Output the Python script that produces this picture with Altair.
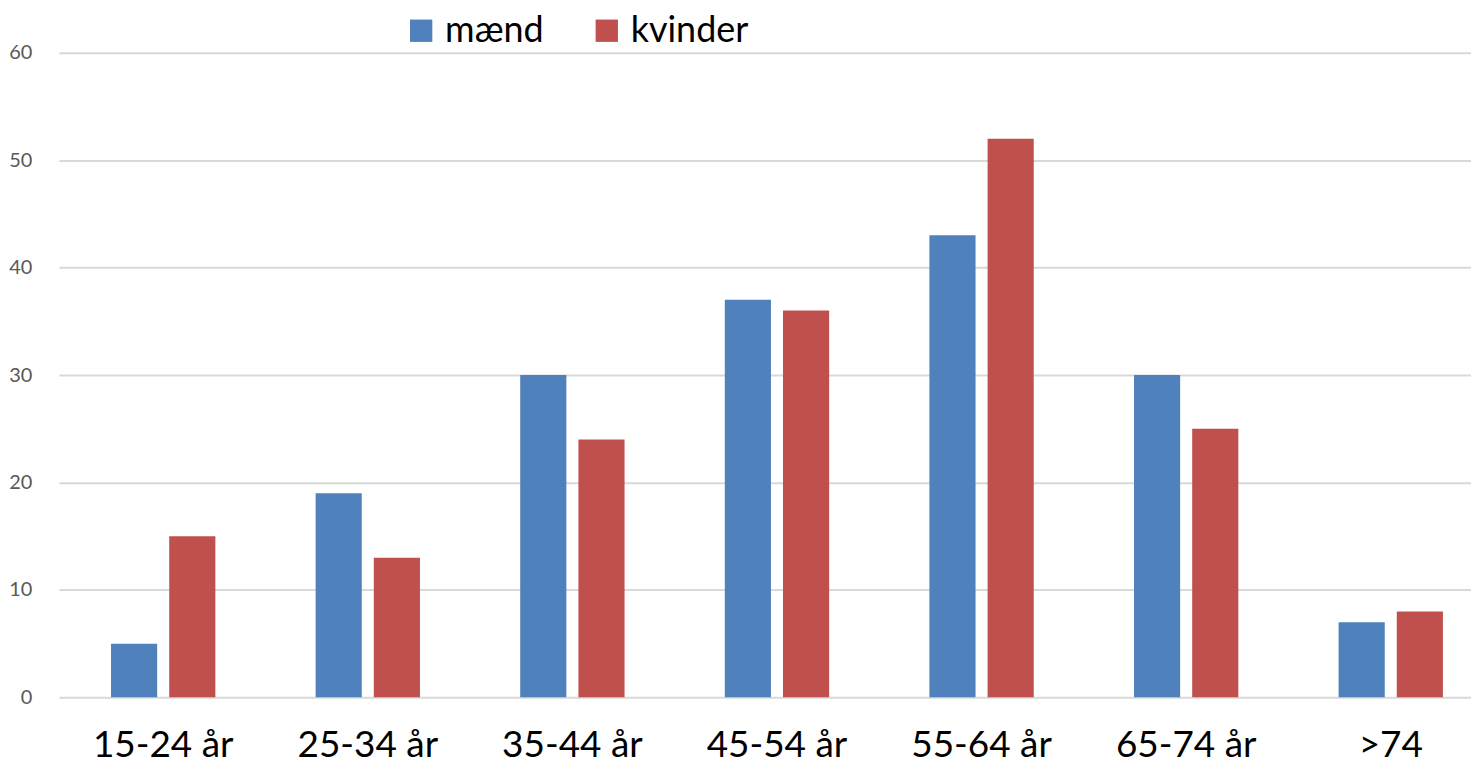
import altair as alt
import pandas as pd

categories = ["15-24 år", "25-34 år", "35-44 år", "45-54 år", "55-64 år", "65-74 år", ">74"]
maend = [5, 19, 30, 37, 43, 30, 7]
kvinder = [15, 13, 24, 36, 52, 25, 8]
series = ["mænd", "kvinder"]
colors = ["#4F81BD", "#C0504D"]

rows = []
for c, m, k in zip(categories, maend, kvinder):
    rows.append({"alder": c, "køn": "mænd", "antal": m})
    rows.append({"alder": c, "køn": "kvinder", "antal": k})
df = pd.DataFrame(rows)

chart = alt.Chart(df).mark_bar().encode(
    x=alt.X("alder:N", sort=categories, title=None,
            scale=alt.Scale(paddingInner=0.49, paddingOuter=0.196, align=0.65),
            axis=alt.Axis(labelAngle=0, labelFont="Lato", labelFontSize=37,
                          labelColor="#000000", labelPadding=30, ticks=False,
                          domain=False)),
    xOffset=alt.XOffset("køn:N", sort=series,
                        scale=alt.Scale(paddingInner=0.207, paddingOuter=0)),
    y=alt.Y("antal:Q", title=None,
            scale=alt.Scale(domain=[0, 60]),
            axis=alt.Axis(values=[0, 10, 20, 30, 40, 50, 60], labelFont="Lato",
                          labelFontSize=20, labelColor="#595959", labelPadding=27,
                          ticks=False, domain=False, grid=True,
                          gridColor="#d9d9d9", gridWidth=2)),
    color=alt.Color("køn:N", sort=series,
                    scale=alt.Scale(domain=series, range=colors),
                    legend=alt.Legend(title=None, orient="none", direction="horizontal",
                                      legendX=345, legendY=-40,
                                      symbolType="square", symbolSize=500,
                                      symbolStrokeWidth=0,
                                      labelFont="Lato", labelFontSize=36,
                                      labelColor="#000000", labelOffset=6,
                                      columnPadding=45)),
).properties(
    width=1415, height=646, padding={"top": 4, "left": 0, "right": 0, "bottom": 0}
).configure_view(stroke=None)

chart.save("out.html", embed_options={"renderer": "svg", "actions": False})
